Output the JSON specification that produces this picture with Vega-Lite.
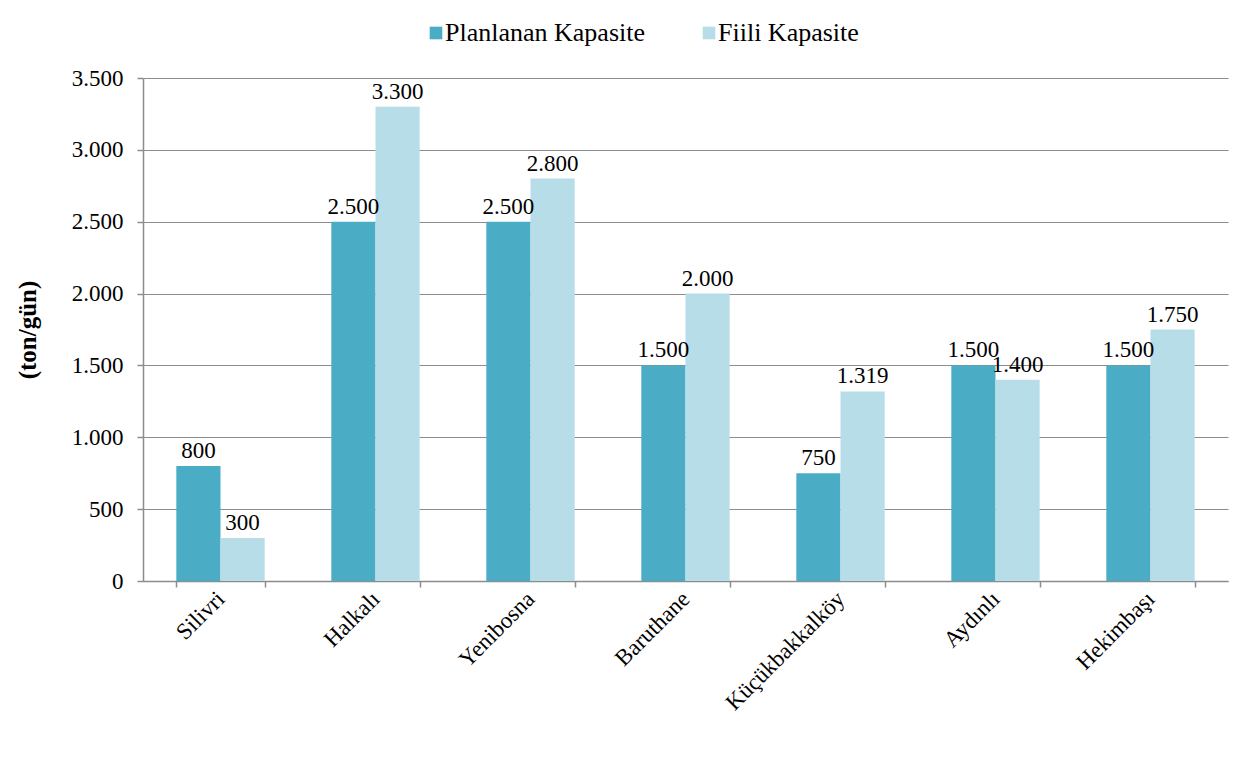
{
  "$schema": "https://vega.github.io/schema/vega-lite/v6.json",
  "width": 1085,
  "height": 503,
  "padding": {"left": 15, "top": 20, "right": 16, "bottom": 10},
  "background": "white",
  "config": {
    "font": "Liberation Serif",
    "locale": {"number": {"decimal": ",", "thousands": ".", "grouping": [3], "currency": ["", " TL"]}},
    "view": {"stroke": null}
  },
  "data": {
    "values": [
      {"istasyon": "Silivri", "tur": "Planlanan Kapasite", "deger": 800},
      {"istasyon": "Silivri", "tur": "Fiili Kapasite", "deger": 300},
      {"istasyon": "Halkalı", "tur": "Planlanan Kapasite", "deger": 2500},
      {"istasyon": "Halkalı", "tur": "Fiili Kapasite", "deger": 3300},
      {"istasyon": "Yenibosna", "tur": "Planlanan Kapasite", "deger": 2500},
      {"istasyon": "Yenibosna", "tur": "Fiili Kapasite", "deger": 2800},
      {"istasyon": "Baruthane", "tur": "Planlanan Kapasite", "deger": 1500},
      {"istasyon": "Baruthane", "tur": "Fiili Kapasite", "deger": 2000},
      {"istasyon": "Küçükbakkalköy", "tur": "Planlanan Kapasite", "deger": 750},
      {"istasyon": "Küçükbakkalköy", "tur": "Fiili Kapasite", "deger": 1319},
      {"istasyon": "Aydınlı", "tur": "Planlanan Kapasite", "deger": 1500},
      {"istasyon": "Aydınlı", "tur": "Fiili Kapasite", "deger": 1400},
      {"istasyon": "Hekimbaşı", "tur": "Planlanan Kapasite", "deger": 1500},
      {"istasyon": "Hekimbaşı", "tur": "Fiili Kapasite", "deger": 1750}
    ]
  },
  "encoding": {
    "x": {
      "field": "istasyon",
      "type": "nominal",
      "sort": null,
      "scale": {"paddingInner": 0.43, "paddingOuter": 0.215},
      "axis": {
        "title": null,
        "labelFont": "Liberation Serif",
        "labelColor": "#000",
        "labelAngle": -45,
        "labelAlign": "right",
        "labelBaseline": "middle",
        "labelFontSize": 23,
        "labelPadding": 8,
        "labelLimit": 300,
        "tickBand": "extent",
        "tickSize": 6,
        "tickColor": "#8c8c8c",
        "domainColor": "#8c8c8c",
        "domainWidth": 1.5,
        "tickWidth": 1.5
      }
    },
    "xOffset": {"field": "tur", "type": "nominal", "sort": ["Planlanan Kapasite", "Fiili Kapasite"]},
    "y": {
      "field": "deger",
      "type": "quantitative",
      "scale": {"domain": [0, 3500], "nice": false},
      "axis": {
        "title": "(ton/gün)",
        "titleFont": "Liberation Serif",
        "titleColor": "#000",
        "titleFontSize": 25,
        "titleFontWeight": "bold",
        "titlePadding": 31,
        "labelFont": "Liberation Serif",
        "labelColor": "#000",
        "labelFontSize": 23,
        "labelPadding": 14,
        "format": ",d",
        "values": [0, 500, 1000, 1500, 2000, 2500, 3000, 3500],
        "tickSize": 6,
        "tickColor": "#8c8c8c",
        "tickWidth": 1.5,
        "domainColor": "#8c8c8c",
        "domainWidth": 1.5,
        "gridColor": "#8c8c8c",
        "gridWidth": 1.2
      }
    }
  },
  "layer": [
    {
      "mark": {"type": "bar"},
      "encoding": {
        "color": {
          "field": "tur",
          "type": "nominal",
          "sort": ["Planlanan Kapasite", "Fiili Kapasite"],
          "scale": {"domain": ["Planlanan Kapasite", "Fiili Kapasite"], "range": ["#4BACC6", "#B7DEE8"]},
          "legend": {
            "title": null,
            "orient": "none",
            "direction": "horizontal",
            "legendX": 280,
            "legendY": -58,
            "symbolType": "square",
            "symbolSize": 160,
            "symbolStrokeWidth": 0,
            "labelFont": "Liberation Serif",
            "labelFontSize": 26,
            "labelLimit": 400,
            "labelOffset": -4,
            "columnPadding": 51,
            "labelColor": "#000"
          }
        }
      }
    },
    {
      "mark": {"type": "text", "baseline": "bottom", "dy": -3, "fontSize": 23, "font": "Liberation Serif", "color": "#000"},
      "encoding": {
        "text": {"field": "deger", "type": "quantitative", "format": ",d"}
      }
    }
  ]
}
